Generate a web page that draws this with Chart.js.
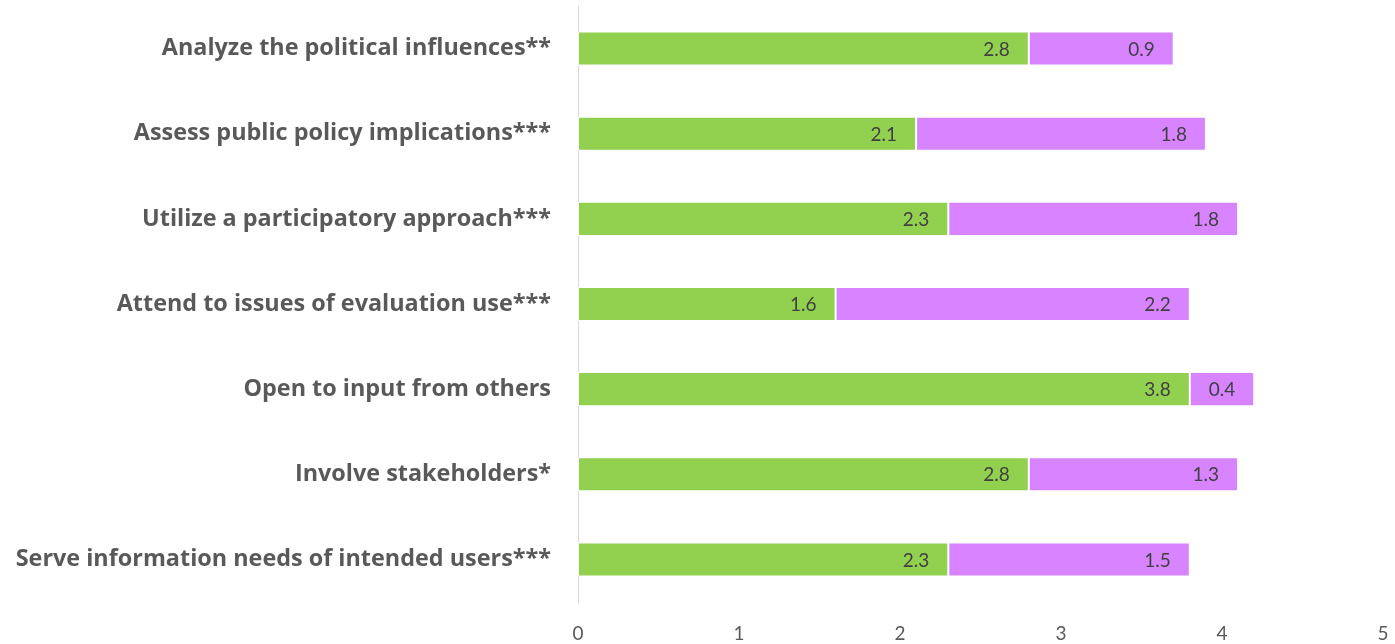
<!DOCTYPE html>
<html>
<head>
<meta charset="utf-8">
<style>
  html, body { margin: 0; padding: 0; background: #ffffff; }
  #wrap { width: 1395px; height: 644px; }
</style>
<script src="https://cdn.jsdelivr.net/npm/chart.js@4/dist/chart.umd.min.js"></script>
</head>
<body>
<div id="wrap"><canvas id="chart" width="1395" height="644"></canvas></div>
<script>
// Competency items, top to bottom
const categories = [
  "Analyze the political influences**",
  "Assess public policy implications***",
  "Utilize a participatory approach***",
  "Attend to issues of evaluation use***",
  "Open to input from others",
  "Involve stakeholders*",
  "Serve information needs of intended users***"
];
// First segment (green)
const seriesA = [2.8, 2.1, 2.3, 1.6, 3.8, 2.8, 2.3];
// Second segment (purple)
const seriesB = [0.9, 1.8, 1.8, 2.2, 0.4, 1.3, 1.5];
// X axis ticks
const xTicks = [0, 1, 2, 3, 4, 5];

const FONT = "Lato, 'Open Sans', sans-serif";
const LABEL_FONT = "'Open Sans', Lato, sans-serif";

// Writes each segment's value just inside its right end
const valueLabels = {
  id: 'valueLabels',
  afterDatasetsDraw(chart) {
    const ctx = chart.ctx;
    ctx.save();
    ctx.font = "19px " + FONT;
    ctx.fillStyle = '#404040';
    ctx.textAlign = 'right';
    ctx.textBaseline = 'middle';
    chart.data.datasets.forEach((ds, di) => {
      const meta = chart.getDatasetMeta(di);
      meta.data.forEach((el, i) => {
        ctx.fillText(ds.data[i].toFixed(1), el.x - 19, el.y + 1);
      });
    });
    ctx.restore();
  }
};

new Chart(document.getElementById('chart'), {
  type: 'bar',
  data: {
    labels: categories,
    datasets: [
      { data: seriesA, backgroundColor: '#92D050', borderColor: '#ffffff', borderWidth: 1, borderSkipped: false },
      { data: seriesB, backgroundColor: '#D883FF', borderColor: '#ffffff', borderWidth: 1, borderSkipped: false }
    ]
  },
  options: {
    indexAxis: 'y',
    responsive: false,
    animation: false,
    layout: { padding: { top: 6, right: 12, bottom: 0, left: 0 } },
    plugins: { legend: { display: false }, tooltip: { enabled: false } },
    datasets: { bar: { categoryPercentage: 1, barPercentage: 0.4 } },
    scales: {
      x: {
        stacked: true,
        min: 0,
        max: 5,
        afterBuildTicks: s => { s.ticks = xTicks.map(v => ({ value: v })); },
        grid: { display: false, drawTicks: false },
        border: { display: false },
        ticks: { padding: 20, color: '#595959', font: { family: FONT, size: 19 } },
        afterFit: s => { s.height = 42; s.paddingLeft = 0; s.paddingRight = 0; }
      },
      y: {
        stacked: true,
        grid: { display: false, drawTicks: false },
        border: { display: true, color: '#D9D9D9', width: 1 },
        ticks: { padding: 27, color: '#595959', font: { family: LABEL_FONT, size: 23.4, weight: 'bold' } },
        afterFit: s => { s.width = 578; s.paddingTop = 0; s.paddingBottom = 0; }
      }
    }
  },
  plugins: [valueLabels]
});
</script>
</body>
</html>
